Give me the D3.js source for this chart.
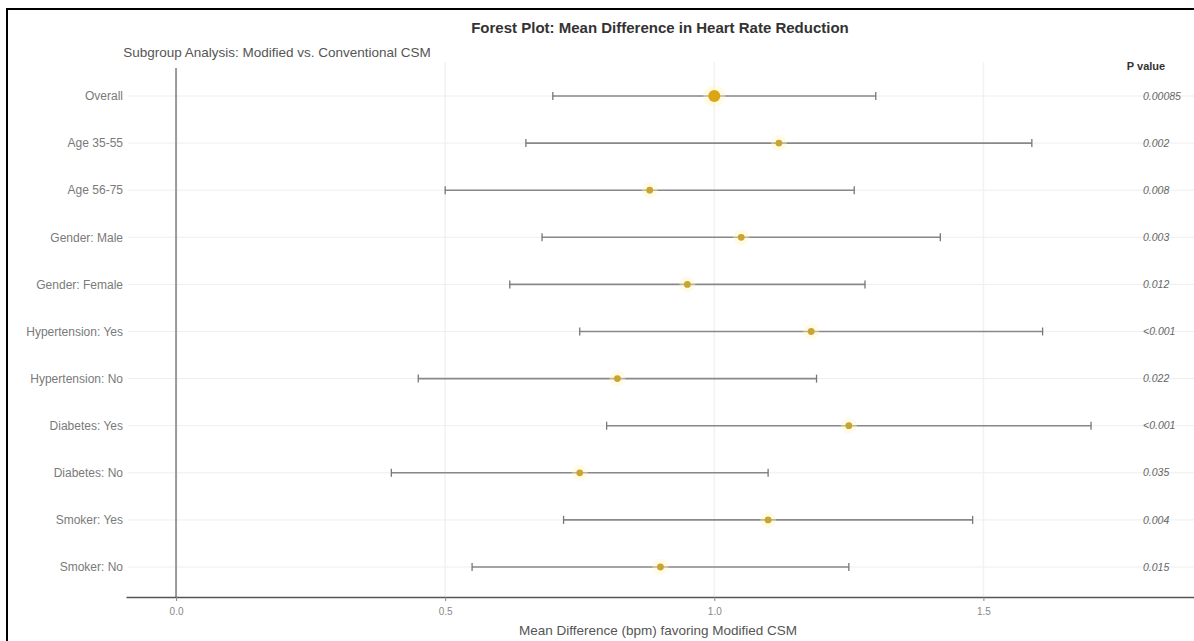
<html>
<head>
  <title>Forest Plot</title>
  <meta charset="utf-8" />
  <script src="https://cdnjs.cloudflare.com/ajax/libs/d3/7.8.5/d3.min.js"></script>
  <style>
    body { margin: 0; background: #fff; }
    svg { font-family: "Liberation Sans", Arial, sans-serif; }
    .x-axis path.domain { stroke: #555; stroke-width: 1.5; }
    .x-axis .tick line { stroke: #888; }
    .x-axis .tick text { fill: #888; font-size: 10px; }
  </style>
</head>
<body>
  <svg></svg>
<script>
  var subgroups = ["Overall", "Age 35-55", "Age 56-75", "Gender: Male", "Gender: Female",
                   "Hypertension: Yes", "Hypertension: No", "Diabetes: Yes", "Diabetes: No",
                   "Smoker: Yes", "Smoker: No"]
  var meanDiff  = [1.00, 1.12, 0.88, 1.05, 0.95, 1.18, 0.82, 1.25, 0.75, 1.10, 0.90]
  var lowerCI   = [0.70, 0.65, 0.50, 0.68, 0.62, 0.75, 0.45, 0.80, 0.40, 0.72, 0.55]
  var upperCI   = [1.30, 1.59, 1.26, 1.42, 1.28, 1.61, 1.19, 1.70, 1.10, 1.48, 1.25]
  var pValues   = ["0.00085", "0.002", "0.008", "0.003", "0.012", "<0.001",
                   "0.022", "<0.001", "0.035", "0.004", "0.015"]
  var xTicks    = [0, 0.5, 1.0, 1.5]

  var rows = subgroups.map((s, i) => ({
    name: s, mean: meanDiff[i], lo: lowerCI[i], hi: upperCI[i], p: pValues[i]
  }))

  var svg = d3.select("svg").attr("width", 1194).attr("height", 641)

  var xScale = d3.scaleLinear().domain([-0.093, 1.895]).range([126, 1196])
  var yScale = d3.scalePoint().domain(subgroups).range([96, 567])
  var axisY  = 597

  // frame
  svg.append("rect")
     .attr("x", 7).attr("y", 9).attr("width", 1200).attr("height", 700)
     .style("fill", "none").style("stroke", "#000").style("stroke-width", 2)

  // vertical grid
  svg.selectAll("line.vgrid")
     .data(xTicks.filter(d => d > 0))
     .enter().append("line")
       .attr("class", "vgrid")
       .attr("x1", d => xScale(d)).attr("x2", d => xScale(d))
       .attr("y1", 62).attr("y2", axisY)
       .style("stroke", "#f2f2f2").style("stroke-width", 1.5)

  // horizontal row grid
  svg.selectAll("line.hgrid")
     .data(rows)
     .enter().append("line")
       .attr("class", "hgrid")
       .attr("x1", 128).attr("x2", 1194)
       .attr("y1", d => yScale(d.name)).attr("y2", d => yScale(d.name))
       .style("stroke", "#eeeeee").style("stroke-width", 1)

  // reference line at zero
  svg.append("line")
     .attr("x1", xScale(0)).attr("x2", xScale(0))
     .attr("y1", 68).attr("y2", axisY)
     .style("stroke", "#9a9a9a").style("stroke-width", 2)

  // x axis
  svg.append("g")
     .attr("class", "x-axis")
     .attr("transform", `translate(0,${axisY})`)
     .call(d3.axisBottom(xScale).tickValues(xTicks).tickFormat(d3.format(".1f")).tickSize(4).tickSizeOuter(0))
     .call(g => g.selectAll(".tick text").attr("dy", "1.1em"))

  // subgroup labels
  svg.selectAll("text.label")
     .data(rows)
     .enter().append("text")
       .attr("class", "label")
       .attr("x", 123)
       .attr("y", d => yScale(d.name))
       .attr("dy", "0.35em")
       .attr("text-anchor", "end")
       .style("font-size", "12px")
       .style("fill", "#7a7a7a")
       .text(d => d.name)

  // confidence intervals
  var bars = svg.selectAll("g.ci")
     .data(rows)
     .enter().append("g")
       .attr("class", "ci")
       .attr("transform", d => `translate(0,${yScale(d.name)})`)

  bars.append("line")
      .attr("x1", d => xScale(d.lo)).attr("x2", d => xScale(d.hi))
      .style("stroke", "#888").style("stroke-width", 1.6)
  bars.append("line")
      .attr("x1", d => xScale(d.lo)).attr("x2", d => xScale(d.lo))
      .attr("y1", -4).attr("y2", 4)
      .style("stroke", "#777").style("stroke-width", 1.3)
  bars.append("line")
      .attr("x1", d => xScale(d.hi)).attr("x2", d => xScale(d.hi))
      .attr("y1", -4).attr("y2", 4)
      .style("stroke", "#777").style("stroke-width", 1.3)

  // point estimates
  bars.append("circle")
      .attr("cx", d => xScale(d.mean))
      .attr("r", (d, i) => i === 0 ? 11 : 8)
      .style("fill", "#fff5c0").style("opacity", 0.4)
  bars.append("circle")
      .attr("cx", d => xScale(d.mean))
      .attr("r", (d, i) => i === 0 ? 6 : 3.4)
      .style("fill", (d, i) => i === 0 ? "#dba514" : "#c8a530")

  // p values
  svg.append("text")
     .attr("x", 1146).attr("y", 70)
     .attr("text-anchor", "middle")
     .style("font-size", "11px").style("font-weight", "bold").style("fill", "#333")
     .text("P value")

  svg.selectAll("text.pval")
     .data(rows)
     .enter().append("text")
       .attr("class", "pval")
       .attr("x", 1143)
       .attr("y", d => yScale(d.name))
       .attr("dy", "0.35em")
       .style("font-size", "10.5px").style("font-style", "italic").style("fill", "#666")
       .text(d => d.p)

  // titles
  svg.append("text")
     .attr("x", 660).attr("y", 33)
     .attr("text-anchor", "middle")
     .style("font-size", "15px").style("font-weight", "bold").style("fill", "#333")
     .text("Forest Plot: Mean Difference in Heart Rate Reduction")

  svg.append("text")
     .attr("x", 277).attr("y", 57)
     .attr("text-anchor", "middle")
     .style("font-size", "13.5px").style("fill", "#555")
     .text("Subgroup Analysis: Modified vs. Conventional CSM")

  svg.append("text")
     .attr("x", 658).attr("y", 635)
     .attr("text-anchor", "middle")
     .style("font-size", "13.5px").style("fill", "#555")
     .text("Mean Difference (bpm) favoring Modified CSM")
</script>
</body>
</html>
